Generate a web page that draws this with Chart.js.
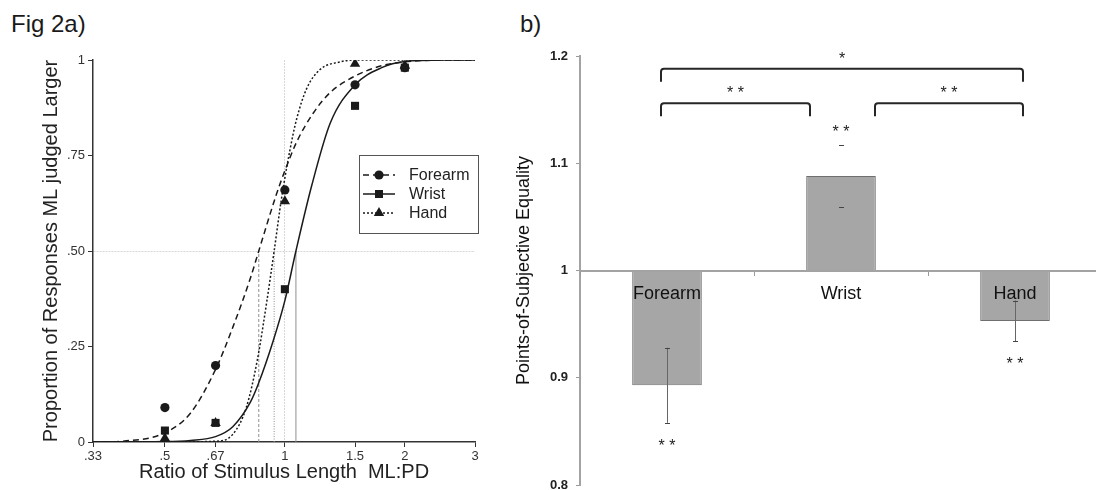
<!DOCTYPE html>
<html>
<head>
<meta charset="utf-8">
<script src="https://cdn.jsdelivr.net/npm/chart.js@4.4.1/dist/chart.umd.min.js"></script>
<style>
   html, body { margin: 0; padding: 0; background: #fff; overflow: hidden; width: 1096px; height: 490px; }
   .fig-label { position: absolute; font-family: "Liberation Sans", Arial, sans-serif; font-size: 24px; line-height: 1; color: #1a1a1a; }
   #left-box { position: absolute; left: 0; top: 0; width: 500px; height: 490px; }
   #right-box { position: absolute; left: 500px; top: 0; width: 602px; height: 490px; }
</style>
</head>
<body>
<div class="fig-label" style="left:11px; top:12px;">Fig 2a)</div>
<div class="fig-label" style="left:520px; top:12px;">b)</div>
<div id="left-box"><canvas id="psyChart" width="500" height="490"></canvas></div>
<div id="right-box"><canvas id="pseChart" width="602" height="490"></canvas></div>

<script>
// ---- panel a: psychometric functions ----
const xTicks = [0.33, 0.5, 0.67, 1, 1.5, 2, 3];
const xTickLabels = [".33", ".5", ".67", "1", "1.5", "2", "3"];
const yTicks = [0, 0.25, 0.5, 0.75, 1];
const yTickLabels = ["0", ".25", ".50", ".75", "1"];

const stimRatios = [0.5, 0.67, 1, 1.5, 2];
const forearmObs = [0.09, 0.20, 0.66, 0.935, 0.98];
const wristObs = [0.03, 0.05, 0.40, 0.88, 0.98];
const handObs = [0.01, 0.05, 0.63, 0.99, 0.985];

// fitted curves
const forearmFitX = [0.33, 0.4, 0.5, 0.58, 0.67, 0.74, 0.82, 0.86, 0.95, 1, 1.07, 1.18, 1.3, 1.5, 1.75, 2, 2.5, 3];
const forearmFitY = [0, 0.003, 0.024, 0.076, 0.19, 0.30, 0.43, 0.5, 0.645, 0.71, 0.785, 0.862, 0.915, 0.958, 0.985, 0.995, 1, 1];
const wristFitX = [0.33, 0.5, 0.58, 0.67, 0.74, 0.82, 0.86, 0.935, 1, 1.066, 1.167, 1.3, 1.5, 1.75, 2, 2.5, 3];
const wristFitY = [0, 0.001, 0.004, 0.014, 0.04, 0.105, 0.155, 0.265, 0.37, 0.5, 0.67, 0.835, 0.935, 0.98, 0.996, 1, 1];
const handFitX = [0.33, 0.5, 0.67, 0.74, 0.8, 0.853, 0.9, 0.94, 0.98, 1.03, 1.07, 1.134, 1.225, 1.375, 1.5, 2, 3];
const handFitY = [0, 0, 0.002, 0.02, 0.09, 0.215, 0.365, 0.5, 0.635, 0.765, 0.845, 0.925, 0.975, 0.995, 1, 1, 1];

// 50% points (forearm, wrist, hand)
const psePoints = [0.86, 1.066, 0.94];

// ---- panel b: PSE bars ----
const sites = ["Forearm", "Wrist", "Hand"];
const pseMeans = [0.893, 1.088, 0.953];
const pseErrors = [0.035, 0.029, 0.019];
const siteStars = ["* *", "* *", "* *"];
const pairFrom = [0, 0, 1];
const pairTo = [2, 1, 2];
const pairStars = ["*", "* *", "* *"];
const bTicks = [0.8, 0.9, 1, 1.1, 1.2];
const bTickLabels = ["0.8", "0.9", "1", "1.1", "1.2"];

Chart.defaults.font.family = '"Liberation Sans", Arial, sans-serif';

function pts(xs, ys) {
   return xs.map((x, i) => ({ x: x, y: ys[i] }));
}

const ink = "#1a1a1a";

const legendPlugin = {
   id: "boxLegend",
   afterDraw(chart) {
      const ctx = chart.ctx;
      const box = { left: 359, top: 155, w: 119, h: 78 };
      ctx.save();
      ctx.strokeStyle = "#555";
      ctx.lineWidth = 1;
      ctx.strokeRect(box.left + 0.5, box.top + 0.5, box.w, box.h);
      [0, 1, 2].forEach(i => {
         const pt = chart.data.datasets[i];
         const curve = chart.data.datasets[i + 3];
         const y = box.top + 20 + i * 19;
         ctx.strokeStyle = ink;
         ctx.lineWidth = 1.5;
         ctx.setLineDash(curve.borderDash || []);
         ctx.beginPath();
         ctx.moveTo(box.left + 4, y);
         ctx.lineTo(box.left + 36, y);
         ctx.stroke();
         ctx.setLineDash([]);
         drawMarker(ctx, pt.pointStyle, box.left + 20, y, pt.pointRadius);
         ctx.fillStyle = "#222";
         ctx.font = '16px "Liberation Sans", Arial, sans-serif';
         ctx.textBaseline = "middle";
         ctx.textAlign = "left";
         ctx.fillText(pt.label, box.left + 50, y + 1);
      });
      ctx.restore();
   }
};

function drawMarker(ctx, style, x, y, r) {
   ctx.fillStyle = ink;
   ctx.beginPath();
   if (style === "circle") {
      ctx.arc(x, y, r, 0, Math.PI * 2);
   } else if (style === "rect") {
      const s = r * Math.SQRT1_2;
      ctx.rect(x - s, y - s, 2 * s, 2 * s);
   } else {
      for (let k = 0; k < 3; k++) {
         const a = k * 2 * Math.PI / 3;
         const px = x + Math.sin(a) * r, py = y - Math.cos(a) * r;
         if (k === 0) ctx.moveTo(px, py); else ctx.lineTo(px, py);
      }
      ctx.closePath();
   }
   ctx.fill();
}

function obsSet(label, data, style, r) {
   return {
      label: label, data: pts(stimRatios, data), showLine: false,
      pointStyle: style, pointRadius: r, pointBackgroundColor: ink,
      pointBorderColor: ink, pointBorderWidth: 0, borderColor: ink
   };
}
function fitSet(xs, ys, dash) {
   return {
      data: pts(xs, ys), borderColor: ink, borderWidth: 1.5, borderDash: dash,
      pointRadius: 0, cubicInterpolationMode: "monotone", fill: false
   };
}
function pseSet(x, dash) {
   return {
      data: [{ x: x, y: 0 }, { x: x, y: 0.5 }], borderColor: "#8f8f8f",
      borderWidth: 1, borderDash: dash, pointRadius: 0, fill: false
   };
}

new Chart(document.getElementById("psyChart"), {
   type: "line",
   data: {
      datasets: [
         obsSet("Forearm", forearmObs, "circle", 4.6),
         obsSet("Wrist", wristObs, "rect", 5.7),
         obsSet("Hand", handObs, "triangle", 6),
         fitSet(forearmFitX, forearmFitY, [6, 4]),
         fitSet(wristFitX, wristFitY, []),
         fitSet(handFitX, handFitY, [2, 2]),
         pseSet(psePoints[0], [3, 2]),
         pseSet(psePoints[1], []),
         pseSet(psePoints[2], [1, 1.5])
      ]
   },
   options: {
      responsive: false,
      animation: false,
      layout: { padding: { top: 60, right: 25, bottom: 0, left: 0 } },
      plugins: { legend: { display: false }, tooltip: { enabled: false } },
      scales: {
         x: {
            type: "logarithmic", min: 0.33, max: 3,
            afterBuildTicks: s => {
               s.min = xTicks[0];
               s.max = xTicks[xTicks.length - 1];
               s.ticks = xTicks.map(v => ({ value: v }));
            },
            afterFit: s => { s.height = 48; s.paddingLeft = 0; s.paddingRight = 0; },
            ticks: { autoSkip: false, maxRotation: 0, padding: 2, color: "#333", font: { size: 13 },
               callback: (v, i) => xTickLabels[i] },
            grid: { color: c => (c.tick && c.tick.value === 1) ? "#d6d6d6" : "rgba(0,0,0,0)",
               tickColor: "#333", tickLength: 5, lineWidth: 1 },
            border: { color: "#333", width: 1.5, dash: [2, 1] },
            title: { display: true, text: "Ratio of Stimulus Length  ML:PD", color: "#222",
               font: { size: 20 }, padding: { top: 0, bottom: 6 } }
         },
         y: {
            min: 0, max: 1,
            afterBuildTicks: s => { s.ticks = yTicks.map(v => ({ value: v })); },
            afterFit: s => { s.width = 93; s.paddingTop = 0; s.paddingBottom = 0; },
            ticks: { padding: 3, color: "#333", font: { size: 13 }, callback: (v, i) => yTickLabels[i] },
            grid: { color: c => (c.tick && c.tick.value === 0.5) ? "#d6d6d6" : "rgba(0,0,0,0)",
               tickColor: "#333", tickLength: 5, lineWidth: 1 },
            border: { color: "#333", width: 1.5, dash: [2, 1] },
            title: { display: true, text: "Proportion of Responses ML judged Larger", color: "#222",
               font: { size: 20 }, padding: { top: 39, bottom: 0 } }
         }
      }
   },
   plugins: [legendPlugin]
});

// ---- panel b ----
const barNotes = {
   id: "barNotes",
   afterDraw(chart) {
      const ctx = chart.ctx;
      const xs = chart.scales.x, ys = chart.scales.y;
      ctx.save();
      // error bars
      pseMeans.forEach((m, i) => {
         const x = xs.getPixelForValue(i);
         const yHi = ys.getPixelForValue(m + pseErrors[i]);
         const yLo = ys.getPixelForValue(m - pseErrors[i]);
         ctx.strokeStyle = "#666";
         ctx.lineWidth = 1;
         if (m < 1) {
            ctx.beginPath();
            ctx.moveTo(x + 0.5, yHi);
            ctx.lineTo(x + 0.5, yLo);
            ctx.stroke();
         }
         ctx.strokeStyle = "#444";
         ctx.beginPath();
         ctx.moveTo(x - 2, Math.round(yHi) + 0.5); ctx.lineTo(x + 3, Math.round(yHi) + 0.5);
         ctx.moveTo(x - 2, Math.round(yLo) + 0.5); ctx.lineTo(x + 3, Math.round(yLo) + 0.5);
         ctx.stroke();
         // significance vs 1
         ctx.fillStyle = "#222";
         ctx.font = '16px "Liberation Sans", Arial, sans-serif';
         ctx.textAlign = "center";
         ctx.textBaseline = "alphabetic";
         const cy = m > 1 ? yHi - 17 : yLo + 19;
         ctx.fillText(siteStars[i], x, cy + 9);
      });
      // comparison brackets
      const bracketLevel = [1.188, 1.156, 1.156];
      const bracketNudge = [[-6, 8], [-6, -31], [34, 8]];
      pairFrom.forEach((f, k) => {
         const x1 = xs.getPixelForValue(f) + bracketNudge[k][0];
         const x2 = xs.getPixelForValue(pairTo[k]) + bracketNudge[k][1];
         const yl = ys.getPixelForValue(bracketLevel[k]);
         const ye = yl + 13, r = 3;
         ctx.strokeStyle = "#262626";
         ctx.lineWidth = 2;
         ctx.beginPath();
         ctx.moveTo(x1, ye);
         ctx.lineTo(x1, yl + r);
         ctx.quadraticCurveTo(x1, yl, x1 + r, yl);
         ctx.lineTo(x2 - r, yl);
         ctx.quadraticCurveTo(x2, yl, x2, yl + r);
         ctx.lineTo(x2, ye);
         ctx.stroke();
         ctx.fillStyle = "#222";
         ctx.font = '16px "Liberation Sans", Arial, sans-serif';
         ctx.textAlign = "center";
         ctx.textBaseline = "alphabetic";
         ctx.fillText(pairStars[k], (x1 + x2) / 2, yl - 14 + 9);
      });
      ctx.restore();
   }
};

new Chart(document.getElementById("pseChart"), {
   type: "bar",
   data: {
      labels: sites,
      datasets: [{
         data: pseMeans, base: 1,
         backgroundColor: "#a6a6a6", borderColor: "#6f6f6f", borderWidth: 1, borderSkipped: "start",
         barPercentage: 0.4, categoryPercentage: 1
      }]
   },
   options: {
      responsive: false,
      animation: false,
      layout: { padding: { top: 56, right: 0, bottom: 5, left: 0 } },
      plugins: { legend: { display: false }, tooltip: { enabled: false } },
      scales: {
         x: {
            position: { y: 1 },
            grid: { offset: true, drawOnChartArea: false, tickLength: 4, color: "#9a9a9a", z: 1 },
            border: { color: "#a3a3a3", width: 2, z: 1 },
            ticks: { color: "#111", font: { size: 18 }, padding: 9, z: 1 }
         },
         y: {
            min: 0.8, max: 1.2,
            afterBuildTicks: s => { s.ticks = bTicks.map(v => ({ value: v })); },
            afterFit: s => { s.width = 80; s.paddingTop = 0; s.paddingBottom = 0; },
            ticks: { padding: 8, color: "#222", font: { size: 13, weight: "bold" },
               callback: (v, i) => bTickLabels[i] },
            grid: { drawOnChartArea: false, tickLength: 4, color: "#9a9a9a" },
            border: { color: "#a3a3a3", width: 2 },
            title: { display: true, text: "Points-of-Subjective Equality", color: "#111",
               font: { size: 18 }, padding: { top: 13, bottom: 0 } }
         }
      }
   },
   plugins: [barNotes]
});
</script>
</body>
</html>
